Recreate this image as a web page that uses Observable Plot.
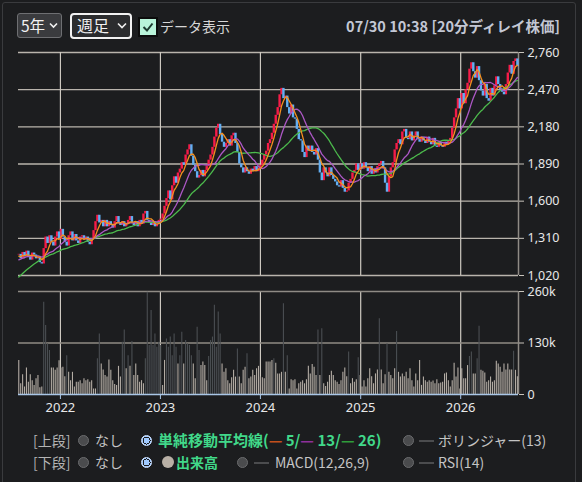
<!DOCTYPE html>
<html><head><meta charset="utf-8">
<script src="https://cdn.jsdelivr.net/npm/d3@7"></script>
<script src="https://cdn.jsdelivr.net/npm/@observablehq/plot@0.6"></script>
<style>
html,body{margin:0;padding:0;background:#1c1d1f;width:582px;height:482px;overflow:hidden;font-family:"Noto Sans CJK JP","Noto Sans",sans-serif;}
#frame{position:absolute;left:2px;top:2px;width:572px;height:520px;border:1px solid #3a3b3e;border-radius:3px;}
.abs{position:absolute;white-space:nowrap;}
.sel{position:absolute;box-sizing:border-box;color:#f2f2f2;}
.radio{position:absolute;width:11px;height:11px;border-radius:50%;box-sizing:border-box;background:#4a4b4d;border:1px solid #6a6b6d;}
.radio.on{background:radial-gradient(circle,#9fc9ff 0 3px,#1c1d1f 3px 4px,#9fc9ff 4px);border:1px solid #cfe2ff;}
.dash{position:absolute;height:2px;width:15px;background:#4b4c4e;}
.lt{font-size:14px;color:#c4c4c4;line-height:20px;}
.gr{color:#41d98a;font-weight:bold;}
#price,#vol{position:absolute;left:0;}
#price{top:40px;}#vol{top:280px;}
</style></head>
<body>
<div id="frame"></div>
<div class="sel" style="left:17px;top:13px;width:45px;height:25px;background:#3a3b3e;border:1px solid #6e6f72;border-radius:3px;">
  <span class="abs" style="left:3px;top:0px;font-size:15.5px;line-height:23px;">5年</span>
  <svg class="abs" style="left:31px;top:8px" width="9" height="7"><polyline points="1,1.5 4.5,5 8,1.5" fill="none" stroke="#f0f0f0" stroke-width="1.6"/></svg>
</div>
<div class="sel" style="left:70px;top:13px;width:62px;height:26px;background:#2b2c2e;border:2px solid #f2f2f2;border-radius:4px;">
  <span class="abs" style="left:5px;top:-1px;font-size:16px;line-height:23px;">週足</span>
  <svg class="abs" style="left:45px;top:7px" width="10" height="7"><polyline points="1,1.5 5,5.5 9,1.5" fill="none" stroke="#f0f0f0" stroke-width="1.6"/></svg>
</div>
<div class="abs" style="left:138px;top:17px;width:20px;height:20px;box-sizing:border-box;background:#b9f4da;border:2px solid #0c0c0c;">
  <svg class="abs" style="left:1px;top:1px" width="14" height="14"><polyline points="2.5,7 6,10.5 11.5,3.5" fill="none" stroke="#1e3b30" stroke-width="2"/></svg>
</div>
<span class="abs" style="left:160px;top:16px;font-size:14px;line-height:20px;color:#d6d6d6;">データ表示</span>
<span class="abs" style="right:22px;top:16px;font-size:14.5px;line-height:20px;color:#c3c7d4;font-weight:bold;">07/30 10:38 [20分ディレイ株価]</span>

<div id="price"></div>
<div id="vol"></div>

<div class="abs lt" style="left:33px;top:430px;color:#b4b4b4;">[上段]</div>
<div class="radio" style="left:78px;top:435px;"></div>
<div class="abs lt" style="left:95px;top:430px;">なし</div>
<div class="radio on" style="left:141px;top:435px;"></div>
<div class="abs lt gr" style="left:158px;top:430px;font-size:15px;">単純移動平均線(<span style="color:#c2501c">—</span> 5/<span style="color:#8e2f9a">—</span> 13/<span style="color:#2f9c3a">—</span> 26)</div>
<div class="radio" style="left:403px;top:435px;"></div>
<div class="dash" style="left:419px;top:440px;"></div>
<div class="abs lt" style="left:438px;top:430px;">ボリンジャー(13)</div>

<div class="abs lt" style="left:33px;top:452px;color:#b4b4b4;">[下段]</div>
<div class="radio" style="left:78px;top:457px;"></div>
<div class="abs lt" style="left:95px;top:452px;">なし</div>
<div class="radio on" style="left:141px;top:457px;"></div>
<div class="abs" style="left:162px;top:456px;width:12px;height:12px;border-radius:50%;background:#b9b0a6;"></div>
<div class="abs lt gr" style="left:176px;top:452px;">出来高</div>
<div class="radio" style="left:237px;top:457px;"></div>
<div class="dash" style="left:254px;top:462px;"></div>
<div class="abs lt" style="left:275px;top:452px;">MACD(12,26,9)</div>
<div class="radio" style="left:403px;top:457px;"></div>
<div class="dash" style="left:419px;top:462px;"></div>
<div class="abs lt" style="left:438px;top:452px;">RSI(14)</div>

<script>
// ---- data (weekly, starting week of 2021-08-02) ----
const startDate = "2021-08-02";
const firstOpen = 1180;
// closes of the 25 weeks before the window (only used to warm up the moving averages)
const priorCloses = [810,830,820,850,840,860,880,870,890,900,910,940,965,
  1080,1100,1120,1110,1140,1150,1130,1160,1170,1150,1180,1170];
const closes = [
  1185,1150,1200,1165,1210,1170,1140,1195,1180,1150,1160,1120,
  1110,1230,1320,1270,1330,
  1280,1250,1320,1360,1300,1380,
  1320,1280,1250,1330,1360,1290,1340,1290,1270,1320,1330,
  1300,1320,1280,1260,1300,
  1370,1440,1490,1430,1450,
  1400,1450,1400,1440,1410,1390,1440,1480,1430,1410,1440,1400,1420,1450,1480,1430,1410,
  1440,1400,1450,1420,1500,1520,1450,1430,1410,1440,1400,1420,1450,1460,
  1500,1560,1620,1680,1610,1720,1790,1740,1820,1850,1900,1880,1960,2000,2040,1950,
  1880,1830,1780,1800,1840,1790,1840,1870,
  1920,1960,2020,2100,2170,2200,2120,
  2060,2020,2050,2080,2030,2110,2130,
  2050,1980,1890,1860,1820,1860,1830,1810,
  1850,1830,1870,1830,1860,1880,1920,
  1960,1990,2050,2080,2130,2200,2270,2330,2430,2480,2400,
  2420,2330,2280,2350,2250,2240,2160,2080,2070,1980,1940,2030,1990,2030,1980,1960,2010,1920,1820,1760,
  1860,1820,1790,1860,1800,1770,1750,1720,1710,1760,1700,1670,1680,1740,1770,1820,1840,1890,1840,1890,
  1850,1900,1860,1830,1870,1810,1850,1820,1870,1890,1910,1860,1740,1670,1790,1860,1900,
  2000,2050,2080,2040,2140,2160,2090,2080,2140,2070,2110,2140,2080,
  2060,2100,2070,2050,2100,2060,2040,2090,2030,2020,2060,2030,2020,2060,2040,2070,2090,
  2170,2250,2320,2400,2320,2440,2360,2470,2520,2630,2680,2610,2560,2650,2540,2460,2420,2510,2400,2380,
  2480,2420,2500,2570,2510,2470,2450,2430,2510,2600,2660,2590,2690,2710,2650
];
// weekly volume, thousands of shares
const volumesK = [
  86,27,50,19,67,31,50,35,23,40,48,17,19,
  233,174,128,111,67,67,61,67,85,67,
  69,45,98,56,35,56,19,31,31,35,27,40,35,37,31,35,14,14,
  90,153,77,62,48,44,87,61,35,25,23,71,44,132,163,65,98,71,134,48,
  77,48,31,35,27,90,258,124,212,124,153,119,132,124,23,86,140,119,145,98,
  153,119,77,98,157,77,136,128,124,98,77,40,170,111,73,82,73,35,96,136,
  145,225,119,208,153,77,56,65,35,27,42,61,44,115,44,27,61,69,103,40,
  44,61,48,65,71,44,42,40,82,82,82,86,90,79,52,52,56,229,56,98,
  14,37,35,37,14,27,31,35,27,37,71,52,76,69,48,163,48,166,27,20,
  31,48,59,48,35,31,25,35,56,67,45,107,27,40,31,37,93,48,19,35,
  19,40,65,45,27,52,62,191,62,27,50,128,56,48,40,65,159,56,44,52,
  45,56,40,65,35,19,52,35,86,23,44,35,31,35,31,34,27,37,27,29,
  31,52,54,35,19,35,79,44,67,14,65,40,40,73,96,107,52,52,90,172,
  61,59,54,31,35,44,31,35,84,77,69,56,77,62,77,62,62,109,61,45
];
const priceTicks = [1020,1310,1600,1890,2180,2470,2760];
const volumeTicks = [0,130000,260000];
const volumeTickLabels = ["0","130k","260k"];
const yearTicks = [2022,2023,2024,2025,2026];
const maPeriods = [5,13,26];
const maColors = ["#f5901f","#ad58c6","#4cba4c"];
const highVolumeK = 88;

// ---- build table ----
const t0 = new Date(startDate + "T00:00:00Z");
const all = priorCloses.concat(closes);
const P = priorCloses.length;
function sma(k, j){ if (j + 1 < k) return NaN; let s = 0; for (let m = j - k + 1; m <= j; m++) s += all[m]; return s / k; }
const rows = closes.map((c, i) => {
  const r = {date: d3.utcDay.offset(t0, 7 * i), open: i ? closes[i - 1] : firstOpen, close: c, vol: volumesK[i] * 1000, volK: volumesK[i]};
  maPeriods.forEach(k => r["ma" + k] = sma(k, i + P));
  return r;
});
const up = rows.filter(d => d.close >= d.open);
const down = rows.filter(d => d.close < d.open);
const yearDates = yearTicks.map(y => new Date(Date.UTC(y, 0, 1)));
const xDomain = [new Date(Date.UTC(2021, 7, 1)), new Date(Date.UTC(2026, 6, 31))];
const fontStyle = {background: "transparent", color: "#e6e6e6", fontFamily: "'Noto Sans', sans-serif", fontSize: "12.5px"};

const price = Plot.plot({
  width: 582, height: 250, marginTop: 12, marginBottom: 15, marginLeft: 18, marginRight: 64,
  style: fontStyle,
  x: {type: "utc", domain: xDomain, axis: null},
  y: {domain: [priceTicks[0], priceTicks[priceTicks.length - 1]], axis: null},
  marks: [
    Plot.ruleY(priceTicks, {stroke: "#b9b4ac", strokeWidth: 1.3}),
    Plot.ruleX(yearDates, {y1: priceTicks[0], y2: priceTicks[priceTicks.length - 1], stroke: "#cdc8c0", strokeWidth: 1.2}),
    Plot.ruleX([xDomain[1]], {y1: priceTicks[0], y2: priceTicks[priceTicks.length - 1], stroke: "#8f8b85", strokeWidth: 1.5}),
    Plot.ruleX(up, {x: "date", y1: "open", y2: "close", stroke: "#f51c48", strokeWidth: 2.4}),
    Plot.ruleX(down, {x: "date", y1: "open", y2: "close", stroke: "#62aef2", strokeWidth: 2.4}),
    Plot.lineY(rows, {x: "date", y: "ma26", stroke: maColors[2], strokeWidth: 1.3}),
    Plot.lineY(rows, {x: "date", y: "ma13", stroke: maColors[1], strokeWidth: 1.3}),
    Plot.lineY(rows, {x: "date", y: "ma5", stroke: maColors[0], strokeWidth: 1.3}),
    Plot.axisY(priceTicks, {anchor: "right", label: null, tickSize: 5, tickPadding: 4, tickFormat: d3.format(","), stroke: "#c8c4bc", fill: "#e8e8e8"})
  ]
});
document.getElementById("price").appendChild(price);

const vol = Plot.plot({
  width: 582, height: 150, marginTop: 11, marginBottom: 36, marginLeft: 18, marginRight: 64,
  style: fontStyle,
  x: {type: "utc", domain: xDomain, axis: null},
  y: {domain: [0, volumeTicks[volumeTicks.length - 1]], axis: null},
  marks: [
    Plot.ruleX(yearDates, {y1: 0, y2: volumeTicks[volumeTicks.length - 1], stroke: "#cdc8c0", strokeWidth: 1.2}),
    Plot.ruleY(volumeTicks.slice(1), {stroke: "#8f8b85", strokeWidth: 1.5}),
    Plot.ruleX(rows.filter(d => d.volK < highVolumeK), {x: "date", y1: 0, y2: "vol", stroke: "#b3aca4", strokeWidth: 1.1}),
    Plot.ruleX(rows.filter(d => d.volK >= highVolumeK), {x: "date", y1: 0, y2: "vol", stroke: "#4a4e52", strokeWidth: 1.1}),
    Plot.ruleX([xDomain[1]], {y1: 0, y2: volumeTicks[volumeTicks.length - 1], stroke: "#8f8b85", strokeWidth: 1.5}),
    Plot.ruleY([0], {stroke: "#a9c6e6", strokeWidth: 1.3}),
    Plot.axisY(volumeTicks, {anchor: "right", label: null, tickSize: 5, tickPadding: 4, tickFormat: (d, i) => volumeTickLabels[i], stroke: "#c8c4bc", fill: "#e8e8e8"}),
    Plot.axisX(yearDates, {anchor: "bottom", label: null, tickSize: 5, tickPadding: 3, tickFormat: d3.utcFormat("%Y"), stroke: "#a9c6e6", fill: "#e8e8e8", fontSize: 13})
  ]
});
document.getElementById("vol").appendChild(vol);
</script>
</body></html>
